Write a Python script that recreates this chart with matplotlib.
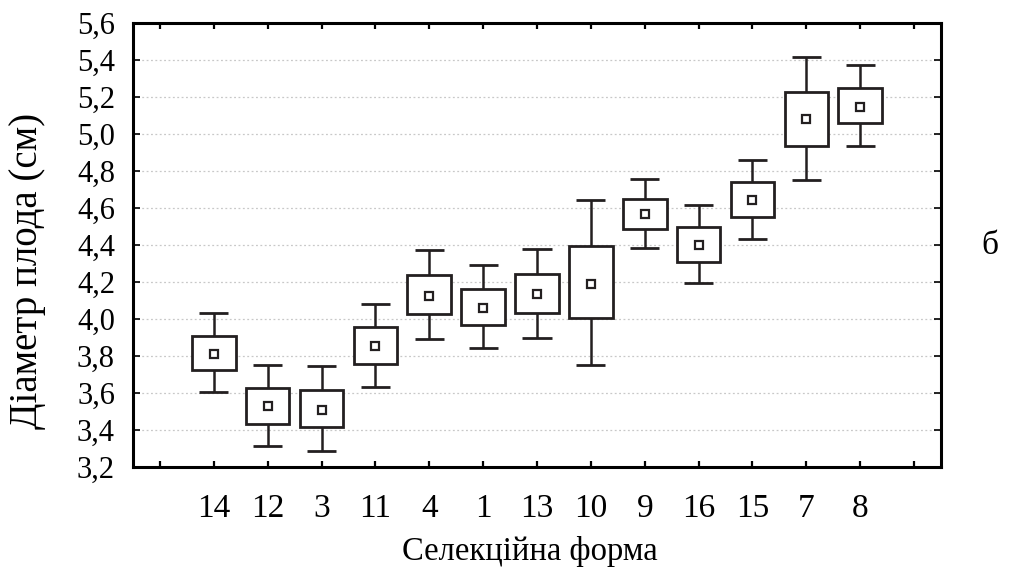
import matplotlib
matplotlib.use("Agg")
import matplotlib.pyplot as plt
import numpy as np

plt.rcParams["font.family"] = ["Liberation Serif", "DejaVu Serif"]

# selection forms, in plotted order
forms = ["14", "12", "3", "11", "4", "1", "13", "10", "9", "16", "15", "7", "8"]
means = [3.812, 3.528, 3.510, 3.852, 4.124, 4.058, 4.135, 4.191, 4.569, 4.400, 4.645, 5.081, 5.146]
box_low = [3.724, 3.432, 3.416, 3.759, 4.025, 3.968, 4.031, 4.004, 4.486, 4.310, 4.553, 4.935, 5.058]
box_high = [3.910, 3.629, 3.616, 3.957, 4.238, 4.164, 4.245, 4.395, 4.650, 4.497, 4.741, 5.229, 5.250]
whisk_low = [3.605, 3.312, 3.288, 3.634, 3.894, 3.842, 3.896, 3.753, 4.384, 4.193, 4.432, 4.751, 4.935]
whisk_high = [4.031, 3.751, 3.746, 4.081, 4.371, 4.290, 4.377, 4.645, 4.755, 4.616, 4.858, 5.416, 5.375]

ink = "#231f20"
x = np.arange(1, len(forms) + 1)

fig = plt.figure(figsize=(10.1, 5.69), dpi=100)
ax = fig.add_axes([0.1317, 0.1793, 0.8, 0.7803])

ax.vlines(x, whisk_low, whisk_high, color=ink, lw=1.8, zorder=2)
ax.hlines(whisk_low, x - 0.27, x + 0.27, color=ink, lw=2.0, zorder=2)
ax.hlines(whisk_high, x - 0.27, x + 0.27, color=ink, lw=2.0, zorder=2)
ax.bar(x, np.array(box_high) - np.array(box_low), bottom=box_low, width=0.81,
       facecolor="white", edgecolor=ink, linewidth=2.0, zorder=3)
ax.plot(x, means, ls="none", marker="s", ms=6.4, mfc="white", mec=ink, mew=1.6, zorder=4)

ax.set_xlim(-0.5, 14.5)
ax.set_ylim(3.2, 5.6)
ax.set_xticks(np.arange(0, 15))
ax.set_xticklabels([""] + forms + [""], fontsize=24)
yt = np.round(np.arange(3.2, 5.61, 0.2), 1)
ax.set_yticks(yt)
ax.set_yticklabels([f"{v:.1f}".replace(".", ",") for v in yt], fontsize=22)
ax.tick_params(axis="x", direction="in", length=4, width=1.6, top=True, pad=19)
ax.tick_params(axis="y", direction="in", length=5, width=1.2, right=True, pad=13)
for s in ax.spines.values():
    s.set_linewidth(2.2)
    s.set_color("black")

ax.grid(axis="y", ls=(0, (1.5, 2)), color="#c8c8c8", lw=0.9, zorder=0)
ax.set_axisbelow(True)

fig.text(0.525, 0.016, "Селекційна форма", fontsize=23.5, ha="center", va="baseline")
fig.text(0.027, 0.523, "Діаметр плода (см)", fontsize=28, rotation=90, ha="center", va="center")
fig.text(0.980, 0.568, "б", fontsize=24, ha="center", va="center")

fig.savefig("out.png", dpi=100)
